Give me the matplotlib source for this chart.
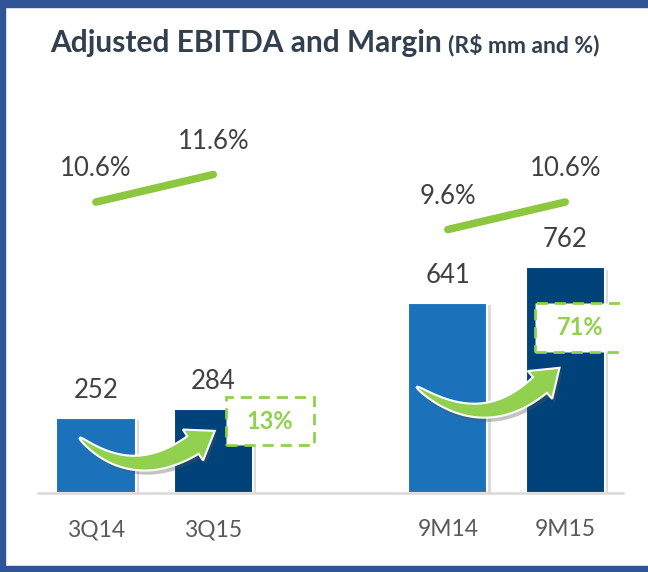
import matplotlib
matplotlib.use("Agg")
import matplotlib.pyplot as plt
import matplotlib.patheffects as pe
from matplotlib.patches import Rectangle, Polygon
from matplotlib.transforms import IdentityTransform
import numpy as np

periods = ["3Q14", "3Q15", "9M14", "9M15"]
x_pos = [0, 1, 3, 4]
ebitda = [252, 284, 641, 762]
margin = [10.6, 11.6, 9.6, 10.6]
growth_labels = ["13%", "71%"]

bar_colors = ["#1B72BA", "#00427A", "#1B72BA", "#00427A"]
green = "#92D050"
line_green = "#8DC63F"
text_gray = "#404040"
frame_blue = "#2F5597"

plt.rcParams["font.family"] = ["Lato", "DejaVu Sans"]

W, H = 648, 572
fig = plt.figure(figsize=(W / 100, H / 100), dpi=100)
ax = fig.add_axes([38 / W, (H - 493) / H, (623 - 38) / W, (493 - 60) / H])
ax.set_xlim(-0.494, 4.493)
ax.set_ylim(0, 1463)

shadow = [pe.SimplePatchShadow(offset=(2.5, -1.5), shadow_rgbFace="#9A9A9A", alpha=0.35), pe.Normal()]
bars = ax.bar(x_pos, ebitda, width=0.675, color=bar_colors, edgecolor="white",
              linewidth=1.5, zorder=2)
for b in bars:
    b.set_path_effects(shadow)

for x, v in zip(x_pos, ebitda):
    ax.annotate(str(v), (x, v), xytext=(0, 20), textcoords="offset points",
                ha="center", va="center", fontsize=18.5, color=text_gray)

for s in ["top", "left", "right"]:
    ax.spines[s].set_visible(False)
ax.spines["bottom"].set_color("#D9D9D9")
ax.spines["bottom"].set_linewidth(1.8)
ax.set_yticks([])
ax.set_xticks(x_pos, periods)
ax.tick_params(axis="x", length=0, pad=19, labelsize=16.5, labelcolor="#595959")

# margin lines on their own scale
ax2 = ax.twinx()
ax2.set_ylim(0.02, 15.765)
ax2.axis("off")
for i in (0, 2):
    xs = [x_pos[i], x_pos[i + 1]]
    ys = [margin[i], margin[i + 1]]
    ax2.plot(xs, ys, color=line_green, lw=5.5, solid_capstyle="round")
    for xx, yy in zip(xs, ys):
        ax2.annotate(f"{yy:.1f}%", (xx, yy), xytext=(0, 24), textcoords="offset points",
                     ha="center", va="center", fontsize=18.5, color=text_gray)


def curved_arrow(p0, p1, p2, body_w=20, head_w=37, head_l=26):
    pts = ax.transData.transform([p0, p1, p2])
    t = np.linspace(0, 1, 80)[:, None]
    curve = (1 - t) ** 2 * pts[0] + 2 * (1 - t) * t * pts[1] + t ** 2 * pts[2]
    deriv = 2 * (1 - t) * (pts[1] - pts[0]) + 2 * t * (pts[2] - pts[1])
    unit = deriv / np.linalg.norm(deriv, axis=1)[:, None]
    normal = np.column_stack([-unit[:, 1], unit[:, 0]])
    half = (0.5 + body_w / 2 * t[:, 0] ** 0.6)[:, None]
    upper = curve + normal * half
    lower = curve - normal * half
    end, u, n = pts[2], unit[-1], normal[-1]
    head = [end + n * head_w / 2, end + u * head_l, end - n * head_w / 2]
    poly = np.vstack([upper, head, lower[::-1]])
    arrow = Polygon(poly, closed=True, transform=IdentityTransform(), facecolor=green,
                    edgecolor="white", linewidth=1.5, zorder=5)
    arrow.set_path_effects([pe.SimplePatchShadow(offset=(2, -3), shadow_rgbFace="#555555", alpha=0.35),
                            pe.Normal()])
    ax.add_patch(arrow)


curved_arrow((-0.136, 186), (0.315, 30), (0.827, 162))
curved_arrow((2.737, 358), (3.299, 196), (3.785, 365))

# growth boxes
boxes = [((1.108, 162), 0.751, 162), ((3.742, 476), 0.767, 166)]
for (xy, w, h), label in zip(boxes, growth_labels):
    ax.add_patch(Rectangle(xy, w, h, facecolor="white", edgecolor=green, linewidth=2,
                           linestyle=(0, (4, 2.5)), zorder=6))
    ax.text(xy[0] + w / 2, xy[1] + h / 2, label, ha="center", va="center",
            fontsize=17, weight="bold", color=green, zorder=7)

# title in two sizes, centered together
title_y = (H - 52) / H
t1 = fig.text(0, title_y, "Adjusted EBITDA and Margin", fontsize=21.5, weight="bold",
              color="#323F4F", va="baseline")
t2 = fig.text(0, title_y, "(R$ mm and %)", fontsize=16.5, weight="bold",
              color="#323F4F", va="baseline")
r = fig.canvas.get_renderer()
w1 = t1.get_window_extent(r).width
w2 = t2.get_window_extent(r).width
gap = 6
start = 325 - (w1 + gap + w2) / 2
t1.set_x(start / W)
t2.set_x((start + w1 + gap) / W)

# frame on left, top and bottom
fig.add_artist(Rectangle((0, 0), 5 / W, 1, transform=fig.transFigure, color=frame_blue, zorder=10))
fig.add_artist(Rectangle((0, 1 - 7 / H), 1, 7 / H, transform=fig.transFigure, color=frame_blue, zorder=10))
fig.add_artist(Rectangle((0, 0), 1, 6 / H, transform=fig.transFigure, color=frame_blue, zorder=10))

fig.savefig("out.png", dpi=100)
